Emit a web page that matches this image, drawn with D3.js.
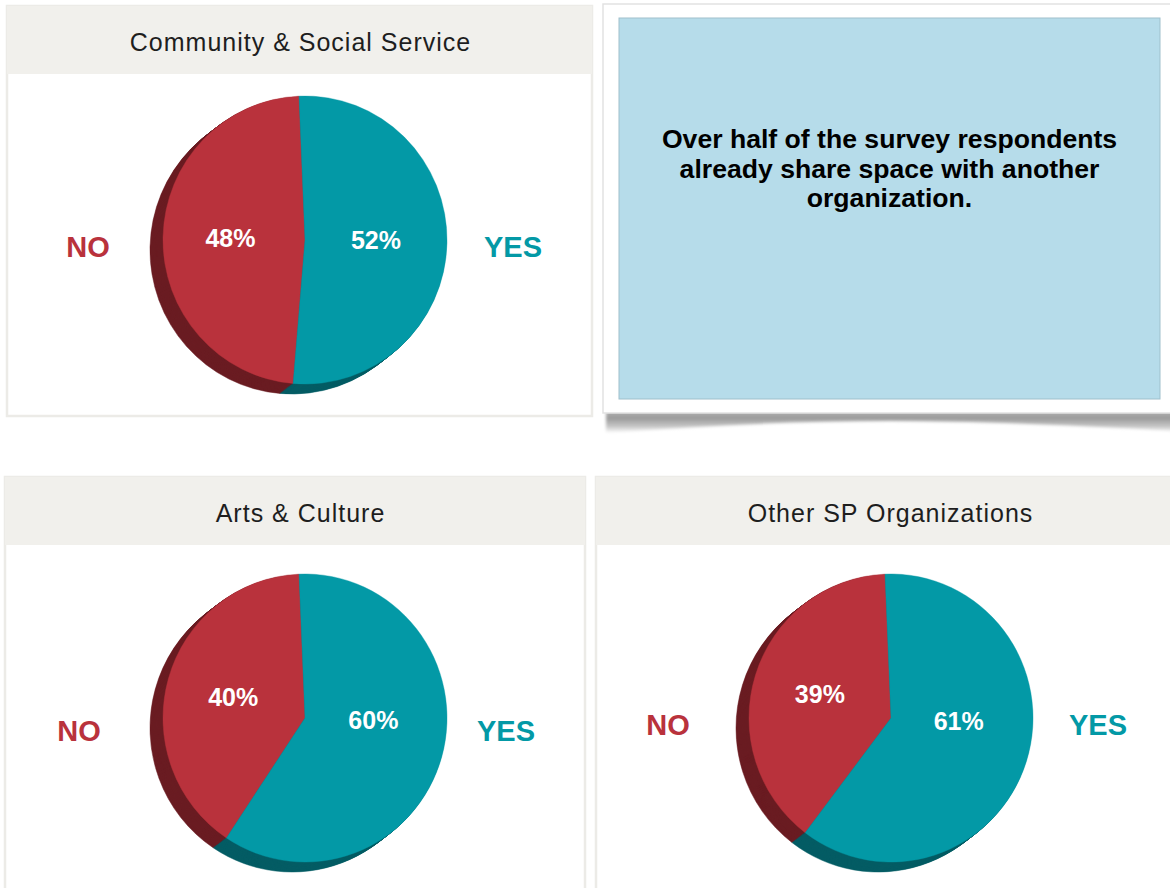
<!DOCTYPE html>
<html>
<head>
<meta charset="utf-8">
<script src="https://cdn.jsdelivr.net/npm/d3@7"></script>
<style>
  html, body { margin: 0; padding: 0; background: #ffffff; }
  svg { display: block; }
</style>
</head>
<body>
<svg id="chart" width="1170" height="888"></svg>
<script>
// ---- data ----
const chartTitles = ["Community & Social Service", "Arts & Culture", "Other SP Organizations"];
const answerLabels = ["NO", "YES"];
const noValues = [48, 40, 39];
const yesValues = [52, 60, 61];
const calloutLines = ["Over half of the survey respondents", "already share space with another", "organization."];

// ---- styling / layout ----
const faceColors = ["#b9323c", "#0399a6"];
const sideColors = ["#6a1c22", "#045c64"];
const panels = [
  {x: 7, y: 6, w: 585, h: 410, cx: 305, cy: 240, tx: 300, nx: 88, yx: 513, ly: 7},
  {x: 5, y: 477, w: 580, h: 420, cx: 305, cy: 718, tx: 300, nx: 79, yx: 506, ly: 13},
  {x: 596, y: 477, w: 580, h: 420, cx: 891, cy: 718, tx: 890, nx: 668, yx: 1098, ly: 7}
];
const headerH = 68;
const rx = 142, ry = 144;
const depthX = -13, depthY = 10;
const rotate = -0.042; // slight tilt of the start of the slices

const FONT = "'Liberation Sans', Arial, Helvetica, sans-serif";
const svg = d3.select("#chart");
const defs = svg.append("defs");

// shadow gradient for callout card
const g1 = defs.append("linearGradient").attr("id", "cardShadow").attr("x1", 0).attr("y1", 0).attr("x2", 0).attr("y2", 1);
g1.append("stop").attr("offset", "0%").attr("stop-color", "#b8b8b8");
g1.append("stop").attr("offset", "35%").attr("stop-color", "#9a9a9a");
g1.append("stop").attr("offset", "70%").attr("stop-color", "#c4c4c4");
g1.append("stop").attr("offset", "100%").attr("stop-color", "#ffffff");
const blur = defs.append("filter").attr("id", "blur").attr("x", "-5%").attr("y", "-50%").attr("width", "110%").attr("height", "200%");
blur.append("feGaussianBlur").attr("stdDeviation", 1.6);

// ---- callout card ----
const card = svg.append("g");
card.append("path")
  .attr("d", "M606,410 L1175,410 L1175,431 Q1000,421 890,421 Q760,421 606,433 Z")
  .attr("fill", "url(#cardShadow)")
  .attr("filter", "url(#blur)");
card.append("rect").attr("x", 603).attr("y", 4).attr("width", 580).attr("height", 409)
  .attr("fill", "#ffffff").attr("stroke", "#e2e2e2").attr("stroke-width", 1.5);
card.append("rect").attr("x", 619).attr("y", 18).attr("width", 541).attr("height", 381)
  .attr("fill", "#b6dcea").attr("stroke", "#9fc0cc").attr("stroke-width", 1);
card.append("text")
  .attr("x", 889.5).attr("y", 148)
  .attr("text-anchor", "middle")
  .style("font-family", FONT)
  .style("font-weight", "bold")
  .style("font-size", "26.6px")
  .attr("fill", "#000000")
  .selectAll("tspan").data(calloutLines).join("tspan")
  .attr("x", 889.5).attr("dy", (d, i) => i === 0 ? 0 : 29.5)
  .text(d => d);

// ---- pies ----
const pie = d3.pie().sort(null).startAngle(rotate).endAngle(rotate - 2 * Math.PI).value(d => d);
const R = 100;
const arc = d3.arc().innerRadius(0).outerRadius(R);
const sx = rx / R, sy = ry / R;

panels.forEach((p, i) => {
  const g = svg.append("g");
  // panel frame
  g.append("rect").attr("x", p.x).attr("y", p.y).attr("width", p.w).attr("height", p.h)
    .attr("fill", "#ffffff").attr("stroke", "#ecebe7").attr("stroke-width", 2.5);
  g.append("rect").attr("x", p.x).attr("y", p.y).attr("width", p.w).attr("height", headerH)
    .attr("fill", "#f1f0ec");
  g.append("text")
    .attr("x", p.tx + 0.5).attr("y", p.y + 45)
    .attr("text-anchor", "middle")
    .style("font-family", FONT)
    .style("font-size", "25px")
    .style("letter-spacing", "1px")
    .attr("fill", "#1e1e1e")
    .text(chartTitles[i]);

  const vals = [noValues[i], yesValues[i]];
  const arcs = pie(vals);

  // extrusion (side of the 3D pie)
  const steps = 14;
  for (let s = steps; s >= 1; s--) {
    const ox = depthX * s / steps, oy = depthY * s / steps;
    const layer = g.append("g").attr("transform", `translate(${p.cx + ox},${p.cy + oy}) scale(${sx},${sy})`);
    layer.selectAll("path").data(arcs).join("path")
      .attr("d", arc)
      .attr("fill", (d, j) => sideColors[j])
      .attr("stroke", (d, j) => sideColors[j])
      .attr("stroke-width", 0.5 / sx);
  }
  // top face
  const face = g.append("g").attr("transform", `translate(${p.cx},${p.cy}) scale(${sx},${sy})`);
  face.selectAll("path").data(arcs).join("path")
    .attr("d", arc)
    .attr("fill", (d, j) => faceColors[j])
    .attr("stroke", (d, j) => faceColors[j])
    .attr("stroke-width", 0.4 / sx);

  // percentage labels
  const labelArc = d3.arc().innerRadius(R * 0.5).outerRadius(R * 0.5);
  arcs.forEach((d, j) => {
    const c = labelArc.centroid(d);
    const lx = p.cx + c[0] * sx * (j === 0 ? 1.05 : 1);
    const ly = p.cy + (j === 0 ? c[1] * sy * 1.1 : c[1] * sy * 0.12);
    g.append("text")
      .attr("x", lx).attr("y", ly)
      .attr("text-anchor", "middle").attr("dominant-baseline", "central")
      .style("font-family", FONT)
      .style("font-weight", "bold").style("font-size", "25px")
      .attr("fill", "#ffffff")
      .text(vals[j] + "%");
  });

  // NO / YES labels
  [p.nx, p.yx].forEach((x, j) => {
    g.append("text")
      .attr("x", x).attr("y", p.cy + p.ly)
      .attr("text-anchor", "middle").attr("dominant-baseline", "central")
      .style("font-family", FONT)
      .style("font-weight", "bold").style("font-size", "29px")
      .attr("fill", faceColors[j])
      .text(answerLabels[j]);
  });
});
</script>
</body>
</html>
